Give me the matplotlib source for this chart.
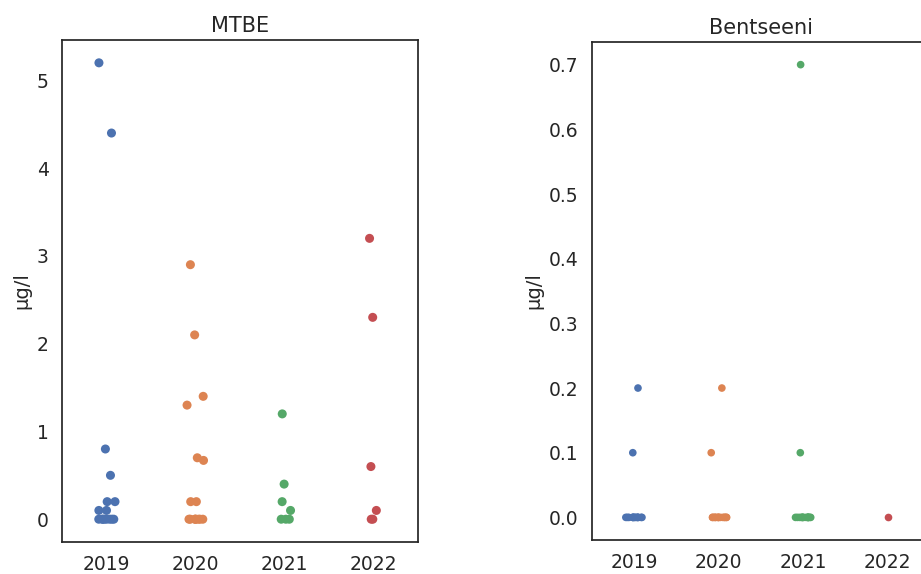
import numpy as np
import pandas as pd
import matplotlib
matplotlib.use("Agg")
import matplotlib.pyplot as plt
import seaborn as sns

# --- Data (µg/l per sample) ---
YEARS = ["2019", "2020", "2021", "2022"]

mtbe_2019 = [5.2, 4.4, 0.8, 0.5, 0.2, 0.2, 0.1, 0.1, 0.0, 0.0, 0.0, 0.0, 0.0, 0.0, 0.0, 0.0]
mtbe_2020 = [2.9, 2.1, 1.4, 1.3, 0.7, 0.67, 0.2, 0.2, 0.0, 0.0, 0.0, 0.0, 0.0, 0.0, 0.0, 0.0]
mtbe_2021 = [1.2, 0.4, 0.2, 0.1, 0.0, 0.0, 0.0]
mtbe_2022 = [3.2, 2.3, 0.6, 0.1, 0.0, 0.0]

bentseeni_2019 = [0.2, 0.1, 0.0, 0.0, 0.0, 0.0, 0.0, 0.0, 0.0, 0.0, 0.0, 0.0, 0.0, 0.0, 0.0, 0.0]
bentseeni_2020 = [0.2, 0.1, 0.0, 0.0, 0.0, 0.0, 0.0, 0.0, 0.0, 0.0, 0.0, 0.0, 0.0, 0.0, 0.0, 0.0]
bentseeni_2021 = [0.7, 0.1, 0.0, 0.0, 0.0, 0.0, 0.0, 0.0, 0.0, 0.0, 0.0, 0.0, 0.0, 0.0, 0.0, 0.0]
bentseeni_2022 = [0.0]


def to_long(series_by_year):
    rows = []
    for yr, vals in zip(YEARS, series_by_year):
        for v in vals:
            rows.append({"year": yr, "value": v})
    return pd.DataFrame(rows)


df_mtbe = to_long([mtbe_2019, mtbe_2020, mtbe_2021, mtbe_2022])
df_bentseeni = to_long([bentseeni_2019, bentseeni_2020, bentseeni_2021, bentseeni_2022])

sns.set_theme(style="white")
plt.rcParams["font.family"] = ["DejaVu Sans"]

fig = plt.figure(figsize=(9.21, 5.74), dpi=100)
ax1 = fig.add_axes([0.0673, 0.0557, 0.3866, 0.8746])
ax2 = fig.add_axes([0.6428, 0.0592, 0.3670, 0.8676])

np.random.seed(7)
panels = [
    (ax1, df_mtbe, "MTBE", 6.5),
    (ax2, df_bentseeni, "Bentseeni", 5.5),
]
for ax, df, title, msize in panels:
    sns.stripplot(data=df, x="year", y="value", hue="year", order=YEARS,
                  hue_order=YEARS, palette="deep", jitter=0.1, size=msize,
                  legend=False, ax=ax)
    ax.set_title(title, fontsize=15, color="#262626")
    ax.set_xlabel("")
    ax.set_ylabel("µg/l", fontsize=14, color="#262626")
    ax.tick_params(axis="both", labelsize=13.5, colors="#262626")
    for sp in ax.spines.values():
        sp.set_color("#262626")
        sp.set_linewidth(1.25)

ax2.set_yticks([0.0, 0.1, 0.2, 0.3, 0.4, 0.5, 0.6, 0.7])

fig.savefig("out.png", dpi=100)
